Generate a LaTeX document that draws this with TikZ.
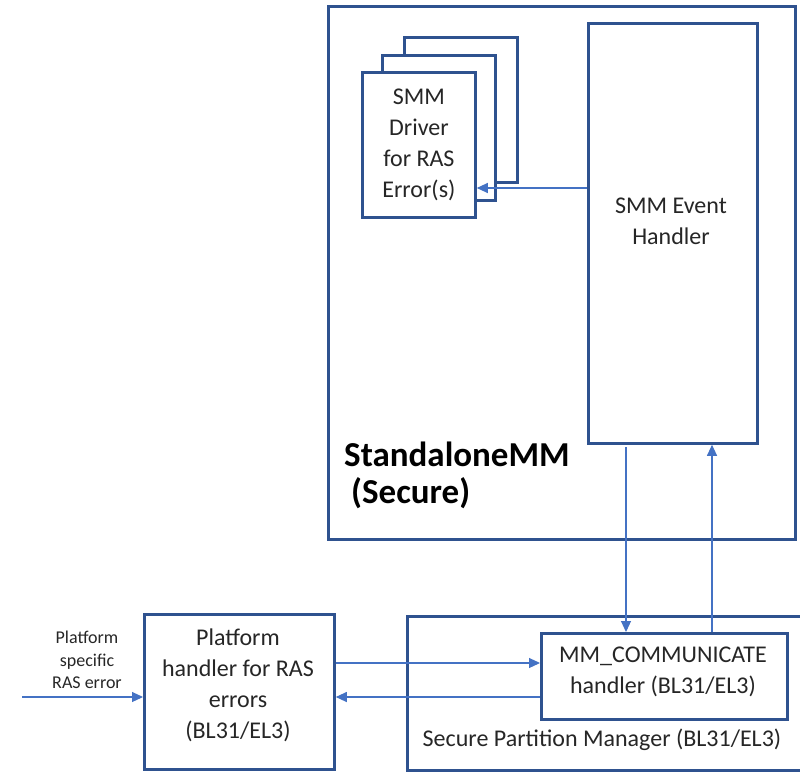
\documentclass[tikz,border=0pt]{standalone}
\usepackage{fontspec}
\setmainfont{Carlito}
\usetikzlibrary{arrows.meta}
\definecolor{boxblue}{HTML}{2F528F}
\definecolor{arrowblue}{HTML}{4472C4}
\definecolor{txt}{HTML}{262626}
\tikzset{
  box/.style={draw=boxblue, line width=2.8pt, fill=white, rectangle, inner sep=0pt,
              anchor=north west, text=txt, align=center,
              font=\fontsize{24}{31}\selectfont},
  plain/.style={text=txt, align=center, inner sep=0pt, font=\fontsize{24}{31}\selectfont},
  small/.style={text=txt, align=center, inner sep=0pt, font=\fontsize{18}{22.5}\selectfont},
  arr/.style={draw=arrowblue, line width=1.1pt, -{Triangle[length=11pt,width=10pt]}}
}
\begin{document}
\begin{tikzpicture}[x=1pt, y=-1pt]
\useasboundingbox (0,0) rectangle (800,771);

% StandaloneMM container
\node[box, minimum width=467pt, minimum height=533pt] (smm) at (327,5) {};
\node[anchor=base west, align=left, inner sep=0pt,
      font=\fontsize{35}{37}\selectfont\bfseries] (smmlbl) at (344,503)
      {StandaloneMM\\\hspace*{7pt}(Secure)};

% SMM event handler
\node[box, minimum width=169pt, minimum height=420pt] (evh) at (587,22) {};
\node[plain] (evhtxt) at (671,221) {SMM Event\\Handler};

% stacked SMM drivers
\node[box, minimum width=113pt, minimum height=145pt] (drv3) at (403,36) {};
\node[box, minimum width=113pt, minimum height=145pt] (drv2) at (381,54) {};
\node[box, minimum width=113pt, minimum height=145pt] (drv1) at (361,71)
      {SMM\\Driver\\for RAS\\Error(s)};

% secure partition manager
\node[box, minimum width=410pt, minimum height=154pt] (spm) at (406,615) {};
\node[plain] (spmtxt) at (602,740) {Secure Partition Manager (BL31/EL3)};
\node[box, minimum width=246pt, minimum height=86pt] (mm) at (540,632) {};
\node[plain] (mmtxt) at (663,672) {MM\_COMMUNICATE\\handler (BL31/EL3)};

% platform handler
\node[box, minimum width=190pt, minimum height=155pt] (plat) at (143,613) {};
\node[plain] (plattxt) at (238,685) {Platform\\handler for RAS\\errors\\(BL31/EL3)};

% incoming platform error
\node[small] (errlbl) at (87,660) {Platform\\specific\\RAS error};
\coordinate (errsrc) at (22,697);

% connectors
\draw[arr] (evh.west |- 0,188) -- (drv1.east |- 0,188);
\draw[arr] (626,447) coordinate (evhout) -- (mm.north -| evhout);
\draw[arr] (mm.north -| 712,0) -- (evh.south -| 712,0);
\draw[arr] (plat.east |- 0,663) -- (mm.west |- 0,663);
\draw[arr] (mm.west |- 0,697) -- (plat.east |- 0,697);
\draw[arr] (errsrc) -- (plat.west |- errsrc);
\end{tikzpicture}
\end{document}
